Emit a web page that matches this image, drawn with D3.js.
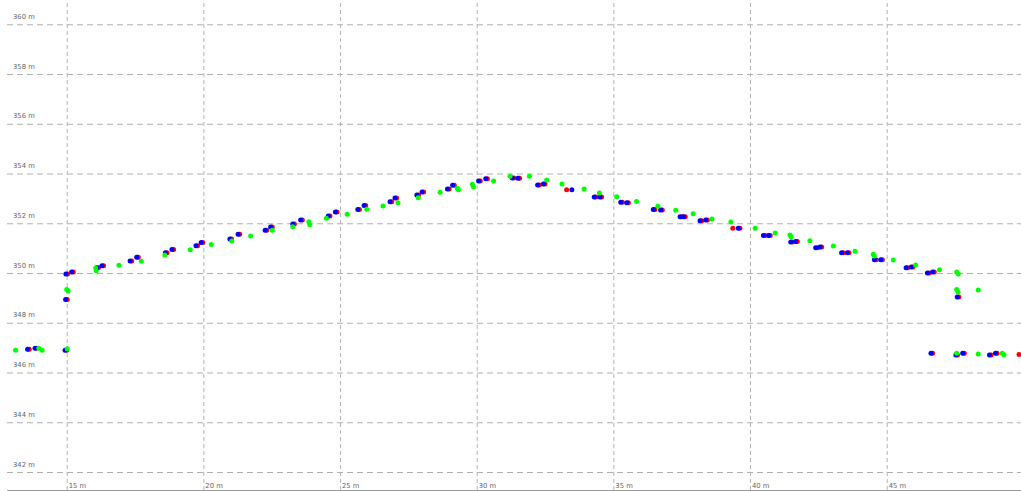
<!DOCTYPE html>
<html><head><meta charset="utf-8">
<script src="https://cdn.jsdelivr.net/npm/d3@7/dist/d3.min.js"></script>
<style>
html,body{margin:0;padding:0;background:#fff;}
svg{display:block;}
</style></head>
<body>
<svg id="chart" width="1021" height="491"></svg>
<script>
// ---- data (metres) ----
const xTicks = [15, 20, 25, 30, 35, 40, 45];
const yTicks = [342, 344, 346, 348, 350, 352, 354, 356, 358, 360];
const xTickLabels = ["15 m", "20 m", "25 m", "30 m", "35 m", "40 m", "45 m"];
const yTickLabels = ["342 m", "344 m", "346 m", "348 m", "350 m", "352 m", "354 m", "356 m", "358 m", "360 m"];

const greenX = [13.13, 13.98, 14.10, 15.02, 15.00, 15.05, 16.08, 16.06, 16.91, 17.73, 18.59, 19.52, 20.29, 21.04, 21.73,
  22.52, 23.27, 23.86, 23.89, 24.50, 25.26, 25.98, 26.57, 27.12, 27.86, 28.66, 29.29, 29.33, 29.84, 29.88, 30.62,
  31.22, 31.93, 32.56, 33.12, 33.93, 34.49, 35.12, 35.85, 36.63, 37.28, 37.92, 38.61, 39.30, 40.19, 40.92, 41.46,
  41.50, 42.19, 43.05, 43.84, 44.51, 44.55, 45.24, 46.06, 46.93, 47.56, 47.62, 47.56, 47.61, 48.35, 47.56, 48.35,
  49.23, 49.29];
const greenY = [346.90, 346.98, 346.90, 346.96, 349.34, 349.28, 350.09, 350.20, 350.31, 350.47, 350.72, 350.94, 351.15, 351.29, 351.49,
  351.72, 351.86, 352.06, 351.94, 352.20, 352.36, 352.56, 352.69, 352.83, 353.03, 353.25, 353.41, 353.35, 353.57, 353.47, 353.70,
  353.89, 353.89, 353.74, 353.58, 353.38, 353.22, 353.07, 352.88, 352.68, 352.52, 352.38, 352.17, 352.05, 351.80, 351.61, 351.53,
  351.46, 351.30, 351.09, 350.88, 350.75, 350.68, 350.52, 350.32, 350.13, 350.04, 349.96, 349.34, 349.24, 349.32, 346.77, 346.74,
  346.77, 346.71];

const blueX = [13.57, 13.84, 14.94, 14.96, 14.97, 15.18, 16.10, 16.29, 17.32, 17.56, 18.61, 18.85, 19.73, 19.92, 20.97, 21.27,
  22.26, 22.46, 23.27, 23.56, 24.57, 24.83, 25.65, 25.88, 26.83, 27.01, 27.81, 28.00, 28.93, 29.12, 30.07, 30.33,
  31.30, 31.51, 32.23, 32.44, 33.48, 34.30, 34.51, 35.27, 35.49, 36.46, 36.73, 37.44, 37.57, 38.17, 38.38, 39.57,
  40.49, 40.68, 41.49, 41.67, 42.40, 42.56, 43.35, 43.56, 44.55, 44.78, 45.71, 45.90, 46.49, 46.68, 47.58, 46.62,
  47.53, 47.78, 48.76, 48.98];
const blueY = [346.94, 346.98, 346.90, 348.94, 349.96, 350.04, 350.21, 350.29, 350.48, 350.63, 350.82, 350.95, 351.10, 351.23, 351.37, 351.56,
  351.72, 351.85, 351.97, 352.13, 352.29, 352.45, 352.55, 352.71, 352.87, 353.02, 353.14, 353.26, 353.38, 353.53, 353.70, 353.79,
  353.82, 353.81, 353.54, 353.58, 353.35, 353.06, 353.06, 352.85, 352.83, 352.55, 352.53, 352.26, 352.26, 352.10, 352.13, 351.80,
  351.51, 351.51, 351.25, 351.27, 351.02, 351.05, 350.82, 350.82, 350.53, 350.53, 350.21, 350.24, 350.00, 350.04, 349.04, 346.77,
  346.70, 346.77, 346.70, 346.77];

const redX = [13.63, 13.90, 15.00, 15.02, 15.03, 15.24, 16.16, 16.35, 17.38, 17.62, 18.67, 18.91, 19.79, 19.98, 21.03, 21.33,
  22.32, 22.52, 23.33, 23.62, 24.63, 24.89, 25.71, 25.94, 26.89, 27.07, 27.87, 28.06, 28.99, 29.18, 30.13, 30.39,
  31.36, 31.57, 32.29, 32.50, 33.29, 34.36, 34.57, 35.33, 35.55, 36.52, 36.79, 37.50, 37.63, 38.23, 38.44, 39.37,
  39.63, 40.55, 40.74, 41.55, 41.73, 42.46, 42.62, 43.41, 43.62, 44.61, 44.84, 45.77, 45.96, 46.55, 46.74, 47.64,
  46.68, 47.59, 47.84, 48.82, 49.04, 49.84];
const redY = [346.94, 346.98, 346.90, 348.94, 349.96, 350.04, 350.21, 350.29, 350.48, 350.63, 350.82, 350.95, 351.10, 351.23, 351.37, 351.56,
  351.72, 351.85, 351.97, 352.13, 352.29, 352.45, 352.55, 352.71, 352.87, 353.02, 353.14, 353.26, 353.38, 353.53, 353.70, 353.79,
  353.82, 353.81, 353.54, 353.58, 353.35, 353.06, 353.06, 352.85, 352.83, 352.55, 352.53, 352.26, 352.26, 352.10, 352.13, 351.80,
  351.80, 351.51, 351.51, 351.25, 351.27, 351.02, 351.05, 350.82, 350.82, 350.53, 350.53, 350.21, 350.24, 350.00, 350.04, 349.04,
  346.77, 346.70, 346.77, 346.70, 346.77, 346.72];

// ---- drawing ----
const W = 1021, H = 491;
const svg = d3.select("#chart");
const x = d3.scaleLinear().domain([15, 45]).range([66.7, 886.7]);
const y = d3.scaleLinear().domain([342, 360]).range([472, 24.3]);
const gridLeft = 7, axisY = 490;

// horizontal grid + y labels
const gy = svg.append("g").attr("transform", `translate(${gridLeft},0)`)
  .call(d3.axisLeft(y).tickValues(yTicks).tickSize(-(W - gridLeft))
    .tickFormat((d, i) => yTickLabels[i]));
gy.select(".domain").remove();
gy.selectAll(".tick line").attr("stroke", "#b0b0b0").attr("stroke-dasharray", "6,4");
gy.selectAll(".tick text").attr("x", 6).attr("dy", 0).attr("y", -6)
  .attr("text-anchor", "start").attr("fill", "#666")
  .style("font-family", "DejaVu Sans, sans-serif").style("font-size", "6.8px");

// vertical grid + x labels
const gx = svg.append("g").attr("transform", `translate(0,${axisY})`)
  .call(d3.axisBottom(x).tickValues(xTicks).tickSize(-axisY)
    .tickFormat((d, i) => xTickLabels[i]));
gx.select(".domain").remove();
gx.selectAll(".tick line").attr("stroke", "#b4b4b4").attr("stroke-dasharray", "4,3");
gx.selectAll(".tick text").attr("x", 1.5).attr("y", -2).attr("dy", 0)
  .attr("text-anchor", "start").attr("fill", "#666")
  .style("font-family", "DejaVu Sans, sans-serif").style("font-size", "6.8px");

// bottom axis line
svg.append("line").attr("x1", gridLeft).attr("x2", W).attr("y1", axisY + 0.5).attr("y2", axisY + 0.5)
  .attr("stroke", "#999").attr("stroke-width", 1.2);

// points
function dots(xs, ys, color) {
  svg.append("g").selectAll("circle").data(xs.map((v, i) => [v, ys[i]])).join("circle")
    .attr("cx", d => x(d[0])).attr("cy", d => y(d[1])).attr("r", 2.5).attr("fill", color);
}
dots(redX, redY, "#ff0000");
dots(blueX, blueY, "#0000ff");
dots(greenX, greenY, "#00ff00");
</script>
</body></html>
